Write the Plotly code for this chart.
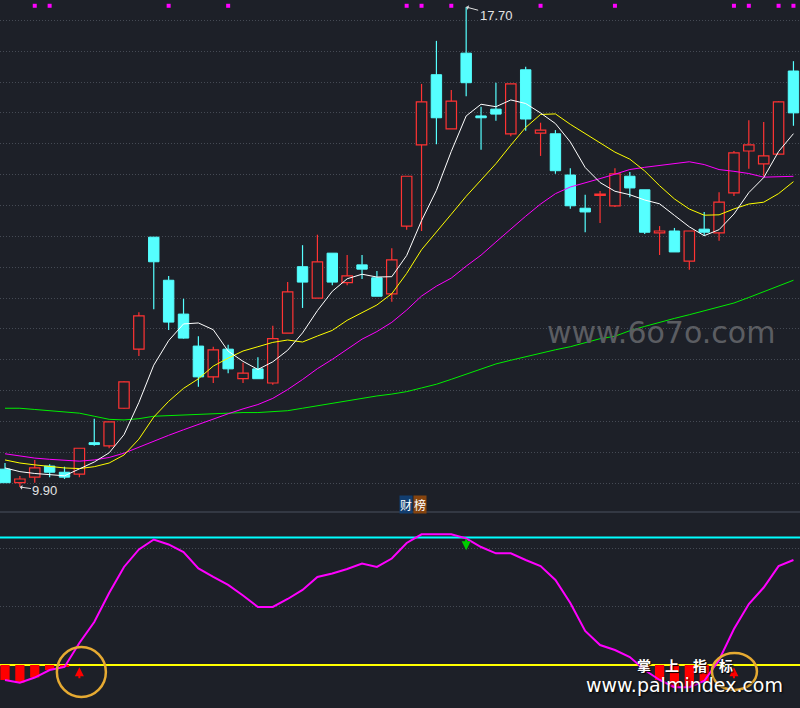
import plotly.graph_objects as go

BG = "#1d2028"
RED = "#ff3333"
CYAN = "#55ffff"

# ---------------- price data (one entry per trading day) ----------------
opens = [10.19, 9.97, 10.06, 10.24, 10.14, 10.11, 10.62, 10.57, 11.18, 12.14,
         13.96, 13.26, 12.71, 12.19, 11.69, 12.14, 11.66, 11.82, 11.59, 12.40,
         13.48, 12.97, 13.70, 13.22, 13.51, 13.30, 13.04, 14.14, 15.46, 16.60,
         15.72, 16.95, 15.93, 16.04, 15.64, 16.68, 15.65, 15.64, 14.97, 14.43,
         14.64, 14.47, 14.95, 14.73, 14.03, 14.06, 13.57, 14.09, 14.03, 14.68,
         15.36, 15.15, 15.31, 16.66]
closes = [9.97, 10.03, 10.21, 10.14, 10.06, 10.53, 10.59, 10.96, 11.61, 12.68,
          13.56, 12.58, 12.32, 11.69, 12.13, 11.82, 11.75, 11.66, 12.31, 13.07,
          13.23, 13.56, 13.23, 13.33, 13.44, 13.00, 13.59, 14.95, 16.16, 15.90,
          16.17, 16.47, 15.90, 15.96, 16.45, 15.88, 15.70, 15.04, 14.47, 14.37,
          14.66, 14.99, 14.76, 14.04, 14.06, 13.72, 14.06, 14.04, 14.53, 15.33,
          15.46, 15.28, 16.16, 15.98]
highs = [10.29, 10.08, 10.34, 10.27, 10.23, 10.53, 11.01, 10.96, 11.62, 12.74,
         13.96, 13.33, 12.96, 12.35, 12.18, 12.21, 11.92, 12.01, 12.52, 13.23,
         13.83, 14.00, 13.70, 13.67, 13.67, 13.41, 13.78, 14.95, 16.45, 17.15,
         16.35, 17.70, 16.08, 16.47, 16.45, 16.73, 15.82, 15.70, 15.08, 14.65,
         14.71, 15.08, 15.02, 14.73, 14.14, 14.11, 14.06, 14.37, 14.69, 15.36,
         15.86, 15.83, 16.17, 16.82]
lows = [9.97, 9.90, 9.97, 10.06, 10.03, 10.06, 10.57, 10.53, 11.17, 12.03,
        12.79, 12.45, 12.31, 11.53, 11.59, 11.75, 11.59, 11.66, 11.56, 12.40,
        12.81, 12.97, 13.18, 13.18, 13.28, 13.00, 12.91, 14.08, 14.06, 15.47,
        15.72, 16.25, 15.38, 15.85, 15.60, 15.69, 15.28, 14.99, 14.42, 14.04,
        14.19, 14.45, 14.61, 14.01, 13.67, 13.72, 13.43, 13.98, 13.90, 14.63,
        15.07, 14.95, 15.31, 15.77]

# moving-average values before enough visible closes exist
ma5_head = [10.21, 10.15, 10.12, 10.10]
ma10_head = [10.34, 10.29, 10.26, 10.23, 10.21, 10.20, 10.23, 10.29, 10.42]
ma20_head = [10.44, 10.40, 10.37, 10.35, 10.33, 10.32, 10.34, 10.38, 10.45, 10.55,
             10.65, 10.74, 10.83, 10.92, 11.01, 11.09, 11.17, 11.24, 11.34]
ma60 = [11.18, 11.18, 11.16, 11.14, 11.13, 11.10, 11.05, 11.00, 10.99, 11.01,
        11.05, 11.06, 11.08, 11.09, 11.09, 11.10, 11.11, 11.11, 11.12, 11.14,
        11.18, 11.22, 11.27, 11.31, 11.35, 11.38, 11.41, 11.45, 11.51, 11.57,
        11.65, 11.73, 11.81, 11.90, 11.96, 12.02, 12.08, 12.13, 12.18, 12.24,
        12.31, 12.35, 12.44, 12.51, 12.58, 12.64, 12.70, 12.76, 12.83, 12.89,
        12.98, 13.07, 13.17, 13.26]

# top signal dots
top_marks = [2, 3, 11, 15, 27, 28, 30, 36, 41, 49, 50, 52, 53]
mark_level = 17.72

# ---------------- indicator (财榜) ----------------
osc = [-12.9, -15.3, -10.8, -4.3, -1.7, 19.0, 37.1, 62.1, 84.5, 99.6,
       108.2, 103.9, 97.4, 83.2, 75.9, 69.0, 59.9, 50.0, 50.0, 56.9,
       64.7, 75.9, 78.9, 82.8, 87.5, 84.5, 91.8, 105.2, 112.7, 112.7,
       112.7, 109.2, 101.7, 96.3, 96.3, 90.5, 85.3, 73.3, 53.4, 29.3,
       17.2, 12.9, 6.9, -4.3, -12.9, -19.2, -19.2, -13.8, 4.3, 31.0,
       52.6, 66.8, 85.3, 90.5]
upper_level = 110
lower_level = 0
osc_grid = [50, 100]
buy_idx = [5, 49]
sell_idx = [31]

n = len(closes)
idx = list(range(n))


def moving_avg(vals, win, head):
    return head + [sum(vals[i - win + 1:i + 1]) / win for i in range(win - 1, len(vals))]


ma5 = moving_avg(closes, 5, ma5_head)
ma10 = moving_avg(closes, 10, ma10_head)
ma20 = moving_avg(closes, 20, ma20_head)

up = [i for i in idx if closes[i] >= opens[i]]
dn = [i for i in idx if closes[i] < opens[i]]


def wick_xy(ids):
    xs, ys = [], []
    for i in ids:
        top, bot = max(opens[i], closes[i]), min(opens[i], closes[i])
        if highs[i] > top:
            xs += [i, i, None]
            ys += [highs[i], top, None]
        if lows[i] < bot:
            xs += [i, i, None]
            ys += [bot, lows[i], None]
    return xs, ys


fig = go.Figure()

# candle bodies
fig.add_trace(go.Bar(x=up, y=[closes[i] - opens[i] for i in up], base=[opens[i] for i in up],
                     width=0.7, marker=dict(color=BG, line=dict(color=RED, width=1.2)),
                     yaxis="y", hoverinfo="skip"))
fig.add_trace(go.Bar(x=dn, y=[opens[i] - closes[i] for i in dn], base=[closes[i] for i in dn],
                     width=0.7, marker=dict(color=CYAN, line=dict(color=CYAN, width=1)),
                     yaxis="y", hoverinfo="skip"))
# wicks
wx, wy = wick_xy(up)
fig.add_trace(go.Scatter(x=wx, y=wy, mode="lines", line=dict(color=RED, width=1.2), hoverinfo="skip"))
wx, wy = wick_xy(dn)
fig.add_trace(go.Scatter(x=wx, y=wy, mode="lines", line=dict(color=CYAN, width=1.2), hoverinfo="skip"))

# moving averages
for vals, col in [(ma60, "#00ee00"), (ma20, "#ff00ff"), (ma10, "#ffff00"), (ma5, "#ffffff")]:
    fig.add_trace(go.Scatter(x=idx, y=vals, mode="lines", line=dict(color=col, width=1)))

# top dots
fig.add_trace(go.Scatter(x=top_marks, y=[mark_level] * len(top_marks), mode="markers",
                         marker=dict(symbol="square", size=4, color="#ff00ff")))

# indicator bars + line
neg = [i for i in idx if osc[i] < lower_level]
fig.add_trace(go.Bar(x=neg, y=[osc[i] - lower_level for i in neg], base=lower_level, width=0.62,
                     marker=dict(color="#ff0000", line=dict(width=0)), yaxis="y2"))
fig.add_trace(go.Scatter(x=idx, y=osc, mode="lines", line=dict(color="#ff00ff", width=2), yaxis="y2"))

GRID = "#454a54"
fig.update_layout(
    width=800, height=708,
    margin=dict(l=0, r=0, t=0, b=0),
    paper_bgcolor=BG, plot_bgcolor=BG,
    showlegend=False, barmode="overlay",
    xaxis=dict(range=[-0.336, 53.44], showgrid=False, zeroline=False, showticklabels=False,
               ticks="", showline=False),
    yaxis=dict(domain=[0.29379, 1], range=[9.689, 17.814],
               tickvals=[round(17.484 - 0.5016 * k, 4) for k in range(16)],
               showgrid=True, gridcolor=GRID, griddash="1px,2px", gridwidth=1,
               zeroline=False, showticklabels=False, ticks="", showline=False),
    yaxis2=dict(domain=[0, 0.27684], range=[-37.07, 131.9], anchor="x",
                tickvals=osc_grid, showgrid=True, gridcolor=GRID, griddash="1px,2px",
                gridwidth=1, zeroline=False, showticklabels=False, ticks="", showline=False),
)

shapes = [
    dict(type="line", xref="paper", yref="paper", x0=0, x1=1, y0=0.2768, y1=0.2768,
         line=dict(color="#3b414d", width=1.5)),
    dict(type="line", xref="paper", yref="y2", x0=0, x1=1, y0=upper_level, y1=upper_level,
         line=dict(color="#00ffff", width=2), layer="below"),
    dict(type="line", xref="paper", yref="y2", x0=0, x1=1, y0=lower_level, y1=lower_level,
         line=dict(color="#ffff00", width=2), layer="below"),
]
circle_geo = [(-22.5, 26.5, -32, 18), (-22, 23, -25, 12)]
for b, (x0, x1, y0, y1) in zip(buy_idx, circle_geo):
    shapes.append(dict(type="circle", xref="x", yref="y2", xsizemode="pixel", ysizemode="pixel",
                       xanchor=b, yanchor=lower_level, x0=x0, x1=x1, y0=y0, y1=y1,
                       line=dict(color="#e6aa32", width=2.5)))
fig.update_layout(shapes=shapes)

ann = []
imax = max(idx, key=lambda i: highs[i])
imin = min(idx, key=lambda i: lows[i])
lab_font = dict(family="Liberation Sans", size=13, color="#e4e4e4")
ann.append(dict(x=imax, y=highs[imax], xref="x", yref="y", text=f"{highs[imax]:.2f}",
                showarrow=True, ax=30, ay=8, arrowhead=1, arrowsize=0.8, arrowwidth=1,
                arrowcolor="#dddddd", font=lab_font, standoff=0))
ann.append(dict(x=imin, y=lows[imin], xref="x", yref="y", text=f"{lows[imin]:.2f}",
                showarrow=True, ax=25, ay=3.5, arrowhead=1, arrowsize=0.8, arrowwidth=1,
                arrowcolor="#dddddd", font=lab_font, standoff=0))
tiny = dict(size=1, color="rgba(0,0,0,0)")
for b in buy_idx:
    ann.append(dict(x=b, y=lower_level - 2, xref="x", yref="y2", text=" ", showarrow=True,
                    ax=0, ay=12, arrowhead=2, arrowsize=0.9, arrowwidth=2, arrowcolor="#ff0000",
                    font=tiny, borderpad=0))
for s in sell_idx:
    ann.append(dict(x=s, y=upper_level - 11, xref="x", yref="y2", text=" ", showarrow=True,
                    ax=0, ay=-12, arrowhead=2, arrowsize=0.9, arrowwidth=2, arrowcolor="#00cc00",
                    font=tiny, borderpad=0))


def paper_text(px, py, text, font, **kw):
    d = dict(x=px / 800, y=1 - py / 708, xref="paper", yref="paper", text=text,
             showarrow=False, xanchor="center", yanchor="middle", font=font)
    d.update(kw)
    return d


# indicator title
ann.append(paper_text(406, 504.5, "财", dict(family="Noto Sans CJK SC", size=12, color="#ffffff"),
                      bgcolor="#123e70", borderpad=0))
ann.append(paper_text(419.5, 504.5, "榜", dict(family="Noto Sans CJK SC", size=12, color="#ffffff"),
                      bgcolor="#86440f", borderpad=0))

# watermarks
ann.append(paper_text(661, 332.5, "www.6o7o.com",
                      dict(family="DejaVu Sans", size=30, color="#5b5d62")))
for ch, cx in zip(["掌", "上", "指", "标"], [643.5, 671.5, 699.5, 726]):
    ann.append(paper_text(cx, 664.5, ch,
                          dict(family="Noto Sans CJK SC", size=14, color="#ffffff", weight="bold",
                               shadow="1px 1px 1px #000000")))
ann.append(paper_text(684, 684.5, "www.palmindex.com",
                      dict(family="DejaVu Sans", size=19, color="#ffffff",
                           shadow="1px 1px 2px #000000")))
fig.update_layout(annotations=ann)

fig.write_html("out.html", config={"displayModeBar": False},
               post_script="document.body.style.margin='0';document.body.style.padding='0';")
